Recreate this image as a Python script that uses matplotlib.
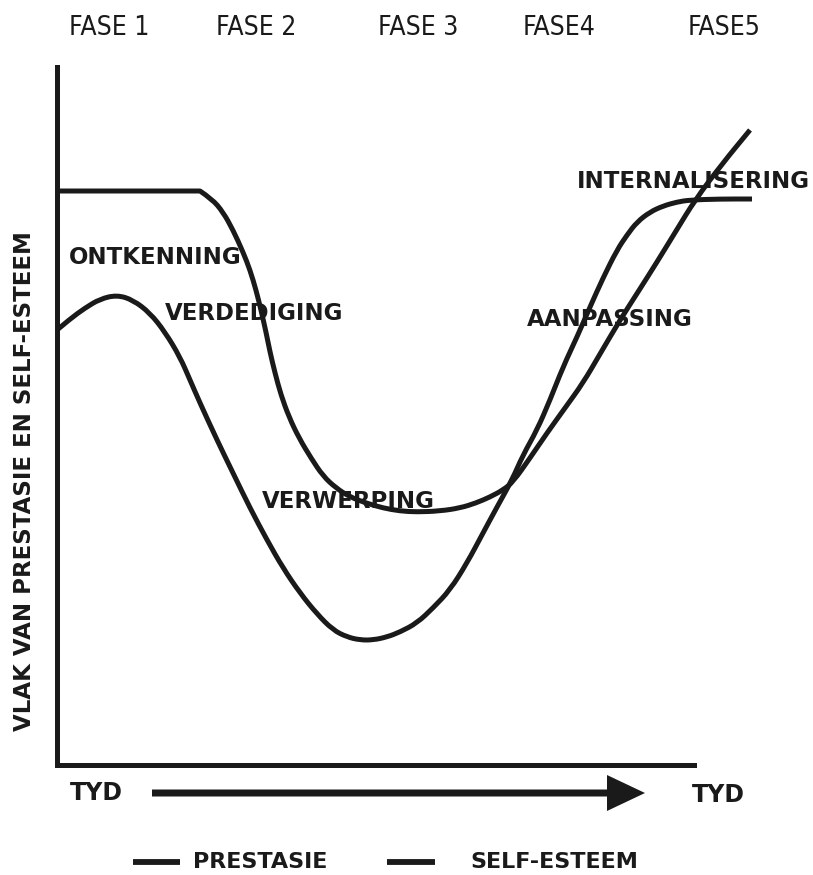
import matplotlib
matplotlib.use('Agg')
import matplotlib.pyplot as plt
from matplotlib.patches import FancyArrow, PathPatch
from matplotlib.path import Path

# Curve points (pixel x, pixel y of the scan) #
prestasie_px = [57, 200, 212, 223, 233, 243, 250, 256, 261, 266, 270, 275, 281, 289, 299,
                311, 323, 336, 350, 366, 383, 400, 417, 440, 460, 476, 490, 503, 513, 530,
                547, 565, 583, 600, 620, 638, 657, 676, 695, 722, 750]
prestasie_py = [191, 191, 199, 212, 230, 252, 270, 290, 310, 332, 352, 373, 395, 417, 438,
                458, 476, 488, 497, 503, 508, 511, 512, 511, 508, 503, 497, 490, 482, 458,
                433, 408, 383, 354, 320, 292, 262, 231, 200, 164, 130]

esteem_px = [57, 70, 85, 100, 117, 133, 150, 165, 180, 190, 200, 217, 233, 250, 267, 283,
             300, 317, 333, 347, 360, 373, 387, 400, 417, 433, 450, 467, 483, 497, 512, 523,
             537, 550, 563, 577, 590, 603, 617, 627, 637, 650, 663, 677, 690, 720, 752]
esteem_py = [330, 319, 308, 299, 295, 300, 313, 332, 357, 380, 403, 440, 473, 508, 540, 568,
             593, 614, 630, 637, 640, 640, 637, 632, 623, 608, 590, 563, 533, 507, 480, 455,
             430, 400, 367, 337, 307, 278, 250, 235, 222, 212, 206, 202, 200, 199, 199]

phases = ['FASE 1', 'FASE 2', 'FASE 3', 'FASE4', 'FASE5']
phase_left = [69, 216, 378, 523, 688]
stages = ['ONTKENNING', 'VERDEDIGING', 'VERWERPING', 'AANPASSING', 'INTERNALISERING']
stage_xy = [(69, 258), (165, 313), (262, 502), (527, 320), (577, 181)]
series = ['PRESTASIE', 'SELF-ESTEEM']

# Figure geometry #
W, H = 813, 875
ax_left, ax_right, ax_top, ax_bottom = 57, 694, 67, 765
ink = '#1a1a1a'
bold = dict(family=['DejaVu Sans'], fontweight='bold', color=ink)
narrow = dict(family=['DejaVu Sans'], fontstretch='condensed', color=ink)

def smooth_path(xs, ys, straight=0):
    """Quadratic bezier through the midpoints, so the hand drawn curve has no kinks.
    The first `straight` segments stay straight lines (sharp corner)."""
    pts = list(zip(xs, ys))
    verts, codes = [pts[0]], [Path.MOVETO]
    for i in range(1, straight + 1):
        verts.append(pts[i])
        codes.append(Path.LINETO)
    for i in range(straight + 1, len(pts) - 1):
        mid = ((pts[i][0] + pts[i + 1][0]) / 2, (pts[i][1] + pts[i + 1][1]) / 2)
        verts += [pts[i], mid]
        codes += [Path.CURVE3, Path.CURVE3]
    verts.append(pts[-1])
    codes.append(Path.LINETO)
    return Path(verts, codes)

fig = plt.figure(figsize=(W / 100, H / 100), dpi=100)
fig.patch.set_facecolor('white')

# Main axes, data in scan offsets from the corner #
ax = fig.add_axes([ax_left / W, 1 - ax_bottom / H,
                   (ax_right - ax_left) / W, (ax_bottom - ax_top) / H])
ax.set_xlim(0, ax_right - ax_left)
ax.set_ylim(0, ax_bottom - ax_top)
for side in ('top', 'right'): ax.spines[side].set_visible(False)
for side in ('left', 'bottom'):
    ax.spines[side].set_linewidth(3.6)
    ax.spines[side].set_color(ink)
ax.set_xticks([])
ax.set_yticks([])

for px, py, corner in ((prestasie_px, prestasie_py, 1), (esteem_px, esteem_py, 0)):
    t = [x - ax_left for x in px]
    v = [ax_bottom - y for y in py]
    ax.add_patch(PathPatch(smooth_path(t, v, corner), fill=False, edgecolor=ink, lw=3.6,
                           capstyle='butt', joinstyle='round', clip_on=False, zorder=2))

# Overlay in scan pixels for the annotations #
over = fig.add_axes([0, 0, 1, 1], zorder=5)
over.set_xlim(0, W)
over.set_ylim(H, 0)
over.axis('off')
over.patch.set_alpha(0)

for name, x in zip(phases, phase_left):
    over.text(x, 28, name, fontsize=19, ha='left', va='center', **narrow)

for name, (x, y) in zip(stages, stage_xy):
    over.text(x, y, name, fontsize=16.5, ha='left', va='center', **bold)

over.text(25, 481, 'VLAK VAN PRESTASIE EN SELF-ESTEEM', rotation=90,
          fontsize=16.5, ha='center', va='center', **bold)

# Time arrow #
over.text(70, 793, 'TYD', fontsize=17, ha='left', va='center', **bold)
over.text(692, 795, 'TYD', fontsize=17, ha='left', va='center', **bold)
over.add_patch(FancyArrow(152, 793, 493, 0, width=7, head_width=36, head_length=38,
                          length_includes_head=True, color=ink, lw=0))

# Legend #
leg_lines = [(133, 180), (387, 435)]
leg_text = [193, 470]
for (x0, x1), tx, name in zip(leg_lines, leg_text, series):
    over.plot([x0, x1], [862, 862], color=ink, lw=4.2, solid_capstyle='butt')
    over.text(tx, 862, name, fontsize=16, ha='left', va='center', **bold)

fig.savefig('out.png', dpi=100, facecolor='white')
